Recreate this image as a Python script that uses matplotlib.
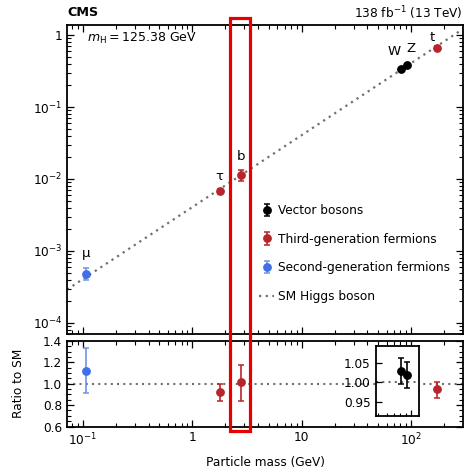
import matplotlib
matplotlib.use("Agg")
import matplotlib.pyplot as plt
import matplotlib.ticker as mticker
from matplotlib.patches import Rectangle
import numpy as np

plt.rcParams['font.family'] = ['DejaVu Sans']
plt.rcParams['mathtext.default'] = 'regular'
FS = 8.7

# ---- data ----
vev = 246.22
vec_names = ["W", "Z"]
vec_mass = [80.38, 91.19]
vec_coup = [0.336, 0.378]
vec_coup_lo = [0.011, 0.013]
vec_coup_hi = [0.011, 0.012]
vec_ratio = [1.028, 1.019]
vec_ratio_lo = [0.033, 0.034]
vec_ratio_hi = [0.033, 0.032]

third_names = ["τ", "b", "t"]
third_mass = [1.777, 2.76, 172.5]
third_coup = [0.0067, 0.0115, 0.67]
third_coup_lo = [0.0006, 0.0021, 0.055]
third_coup_hi = [0.00058, 0.0018, 0.045]
third_ratio = [0.92, 1.02, 0.95]
third_ratio_lo = [0.085, 0.18, 0.08]
third_ratio_hi = [0.08, 0.16, 0.065]

second_names = ["μ"]
second_mass = [0.1057]
second_coup = [4.8e-4]
second_coup_lo = [0.9e-4]
second_coup_hi = [0.9e-4]
second_ratio = [1.12]
second_ratio_lo = [0.21]
second_ratio_hi = [0.21]

xlim = (0.0714, 299.0)
sm_x = [xlim[0], xlim[1]]

col_vec = "black"
col_third = "#b8252b"
col_second = "#4070e8"
col_second_err = "#6f92ea"

W, H = 473, 472
fig = plt.figure(figsize=(W / 100, H / 100), dpi=100)

def fx(px):
    return px / W

def fy(py):
    return 1 - py / H

ax = fig.add_axes([fx(67), fy(334), fx(463) - fx(67), fy(25) - fy(334)])
axr = fig.add_axes([fx(67), fy(426.5), fx(463) - fx(67), fy(341) - fy(426.5)])
axi = fig.add_axes([fx(375.7), fy(415.7), fx(419.3) - fx(375.7), fy(346) - fy(415.7)])

ekw = dict(fmt='o', markersize=5.3, capsize=2.2, elinewidth=1.2, capthick=1.1)

# ---- top panel ----
sm_line, = ax.plot(sm_x, [v / vev for v in sm_x], color="#707070", lw=1.6,
                   linestyle=(0, (1, 2.0)), label="SM Higgs boson", zorder=1)
h_vec = ax.errorbar(vec_mass, vec_coup, yerr=[vec_coup_lo, vec_coup_hi],
                    color=col_vec, label="Vector bosons", zorder=3, **ekw)
h_third = ax.errorbar(third_mass, third_coup, yerr=[third_coup_lo, third_coup_hi],
                      color=col_third, label="Third-generation fermions", zorder=3, **ekw)
h_second = ax.errorbar(second_mass, second_coup, yerr=[second_coup_lo, second_coup_hi],
                       color=col_second, ecolor=col_second_err,
                       label="Second-generation fermions", zorder=3, **ekw)

ax.set_xscale('log')
ax.set_yscale('log')
ax.set_xlim(*xlim)
ax.set_ylim(7.0e-5, 1.38)

# particle labels (offsets in points)
label_offsets = {"μ": (0, 14.5), "τ": (0, 11), "b": (0, 13),
                 "W": (-5, 12.5), "Z": (3, 12.5), "t": (-3.5, 7.5)}
for names, ms, cs in [(vec_names, vec_mass, vec_coup),
                      (third_names, third_mass, third_coup),
                      (second_names, second_mass, second_coup)]:
    for n, m, c in zip(names, ms, cs):
        ax.annotate(n, (m, c), xytext=label_offsets[n], textcoords='offset points',
                    ha='center', va='center', fontsize=FS + 0.8)

ax.yaxis.set_major_locator(mticker.FixedLocator([1e-4, 1e-3, 1e-2, 1e-1, 1]))
ax.set_yticklabels(["$10^{-4}$", "$10^{-3}$", "$10^{-2}$", "$10^{-1}$", "1"])
ax.yaxis.set_minor_locator(mticker.LogLocator(base=10, subs=np.arange(2, 10), numticks=20))
ax.yaxis.set_minor_formatter(mticker.NullFormatter())
ax.xaxis.set_major_locator(mticker.FixedLocator([0.1, 1, 10, 100]))
ax.xaxis.set_minor_locator(mticker.LogLocator(base=10, subs=np.arange(2, 10), numticks=20))
ax.xaxis.set_minor_formatter(mticker.NullFormatter())
ax.tick_params(labelbottom=False)

ax.text(0.05, 0.955, r"$\mathit{m}_\mathrm{H} = 125.38$ GeV", transform=ax.transAxes,
        fontsize=FS + 0.3, ha='left', va='center')

leg = ax.legend(handles=[h_vec, h_third, h_second, sm_line],
                labels=["Vector bosons", "Third-generation fermions",
                        "Second-generation fermions", "SM Higgs boson"],
                loc='upper left', bbox_to_anchor=(fx(259), fy(204)),
                bbox_transform=fig.transFigure, frameon=False, fontsize=FS,
                handlelength=1.25, handletextpad=0.3, labelspacing=1.3,
                borderpad=0, borderaxespad=0)

# ---- ratio panel ----
axr.axhline(1.0, color="#707070", lw=1.5, linestyle=(0, (1, 2.0)), zorder=1)
axr.errorbar(third_mass, third_ratio, yerr=[third_ratio_lo, third_ratio_hi],
             color=col_third, zorder=3, **ekw)
axr.errorbar(second_mass, second_ratio, yerr=[second_ratio_lo, second_ratio_hi],
             color=col_second, ecolor=col_second_err, zorder=3, **ekw)
axr.set_xscale('log')
axr.set_xlim(*xlim)
axr.set_ylim(0.6, 1.4)
axr.xaxis.set_major_locator(mticker.FixedLocator([0.1, 1, 10, 100]))
axr.set_xticklabels(["$10^{-1}$", "1", "10", "$10^{2}$"])
axr.xaxis.set_minor_locator(mticker.LogLocator(base=10, subs=np.arange(2, 10), numticks=20))
axr.xaxis.set_minor_formatter(mticker.NullFormatter())
axr.yaxis.set_major_locator(mticker.FixedLocator([0.6, 0.8, 1.0, 1.2, 1.4]))
axr.set_yticklabels(["0.6", "0.8", "1.0", "1.2", "1.4"])
axr.yaxis.set_minor_locator(mticker.MultipleLocator(0.05))
axr.set_xlabel("Particle mass (GeV)", fontsize=FS, labelpad=6)
axr.set_ylabel("Ratio to SM", fontsize=FS, labelpad=13)

# ---- inset ----
axi.axhline(1.0, color="#707070", lw=1.5, linestyle=(0, (1, 2.0)), zorder=1)
axi.errorbar(vec_mass, vec_ratio, yerr=[vec_ratio_lo, vec_ratio_hi],
             color=col_vec, zorder=3, **ekw)
axi.set_xscale('log')
axi.set_xlim(47.5, 119)
axi.set_ylim(0.916, 1.092)
axi.yaxis.set_major_locator(mticker.FixedLocator([0.95, 1.0, 1.05]))
axi.set_yticklabels(["0.95", "1.00", "1.05"])
axi.yaxis.set_minor_locator(mticker.NullLocator())
axi.xaxis.set_major_locator(mticker.FixedLocator([100]))
axi.xaxis.set_minor_locator(mticker.FixedLocator([50, 60, 70, 80, 90]))
axi.xaxis.set_major_formatter(mticker.NullFormatter())
axi.xaxis.set_minor_formatter(mticker.NullFormatter())
axi.tick_params(labelbottom=False)
axi.patch.set_facecolor('white')

for a in (ax, axr, axi):
    for s in a.spines.values():
        s.set_linewidth(1.3)
for a in (ax, axr):
    a.tick_params(which='both', direction='in', top=True, right=True, labelsize=FS)
    a.tick_params(which='major', length=5, width=0.9)
    a.tick_params(which='minor', length=2.6, width=0.8)
axi.tick_params(which='both', direction='in', top=False, right=False, labelsize=FS)
axi.tick_params(which='major', length=4.5, width=0.9)
axi.tick_params(which='minor', length=2.4, width=0.8)

# ---- header texts ----
fig.text(fx(67), fy(13), "CMS", fontsize=FS + 0.5, fontweight='bold', ha='left', va='center')
fig.text(fx(463), fy(13), "138 fb$^{-1}$ (13 TeV)", fontsize=FS, ha='right', va='center')

# ---- red highlight box ----
fig.patches.append(Rectangle((fx(229.8), fy(430.5)), fx(250.2) - fx(229.8), fy(17.5) - fy(430.5),
                             transform=fig.transFigure, fill=False, edgecolor="#e60000",
                             linewidth=2.3, zorder=10))

fig.savefig("out.png", dpi=100)
